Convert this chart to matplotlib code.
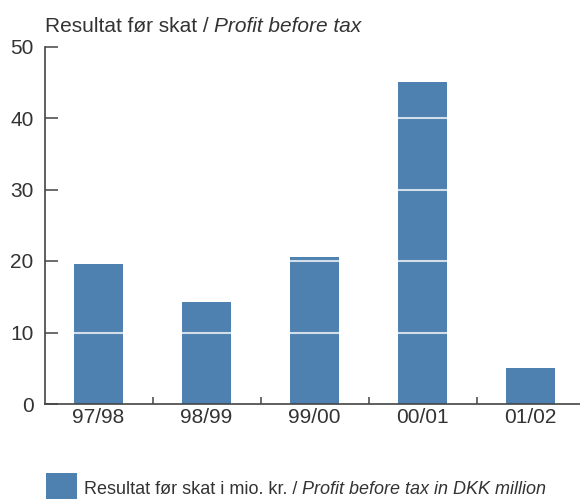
import matplotlib
matplotlib.use("Agg")
import matplotlib.pyplot as plt
from matplotlib.patches import Rectangle

categories = ["97/98", "98/99", "99/00", "00/01", "01/02"]
values = [19.6, 14.3, 20.6, 45.0, 5.0]
yticks = [0, 10, 20, 30, 40, 50]

bar_color = "#4f81b0"
text_color = "#333333"
plt.rcParams['font.family'] = ['Liberation Sans', 'DejaVu Sans']

fig = plt.figure(figsize=(5.8, 5.0), dpi=100)
ax = fig.add_axes([44.5/580, 96/500, 540/580, 357.5/500])

x = list(range(len(categories)))
w = 0.45
ax.bar(x, values, width=w, color=bar_color, zorder=1)
# white grid lines visible only across the bars
for xi, v in zip(x, values):
    for yv in yticks[1:-1]:
        if yv < v:
            ax.plot([xi - w/2, xi + w/2], [yv, yv], color="white", alpha=0.75, lw=1.5,
                    solid_capstyle="butt", zorder=2)

ax.set_xlim(-0.5, 4.5)
ax.set_ylim(0, 50)
ax.set_yticks(yticks)
ax.set_yticklabels([str(v) for v in yticks], fontsize=15, color=text_color)
ax.set_xticks(x)
ax.set_xticklabels(categories, fontsize=15, color=text_color)
ax.set_xticks([0.5, 1.5, 2.5, 3.5], minor=True)
ax.tick_params(axis='x', which='major', length=0, pad=3)
ax.tick_params(axis='x', which='minor', direction='in', length=5, width=1.1, color="#444444")
ax.tick_params(axis='y', direction='in', length=9.5, width=1.1, color="#444444", pad=8)
for s in ["top", "right"]:
    ax.spines[s].set_visible(False)
for s in ["left", "bottom"]:
    ax.spines[s].set_color("#444444")
    ax.spines[s].set_linewidth(1.2)
    ax.spines[s].set_zorder(3)

t = fig.text(45/580, 1 - 32/500, "Resultat før skat / ", fontsize=15, color=text_color,
             va="baseline", ha="left")
fig.canvas.draw()
bb = t.get_window_extent()
fig.text(bb.x1/580, 1 - 32/500, "Profit before tax", fontsize=15, color=text_color,
         va="baseline", ha="left", style="italic")

fig.patches.append(Rectangle((46/580, 1/500), 31/580, 26/500, transform=fig.transFigure,
                             facecolor=bar_color, edgecolor="none"))
t2 = fig.text(84/580, 1 - 490/500, "Resultat før skat i mio. kr. / ", fontsize=13,
              color=text_color, va="center", ha="left")
fig.canvas.draw()
bb2 = t2.get_window_extent()
fig.text(bb2.x1/580, 1 - 490/500, "Profit before tax in DKK million", fontsize=13,
         color=text_color, va="center", ha="left", style="italic")

fig.savefig("out.png", dpi=100)
